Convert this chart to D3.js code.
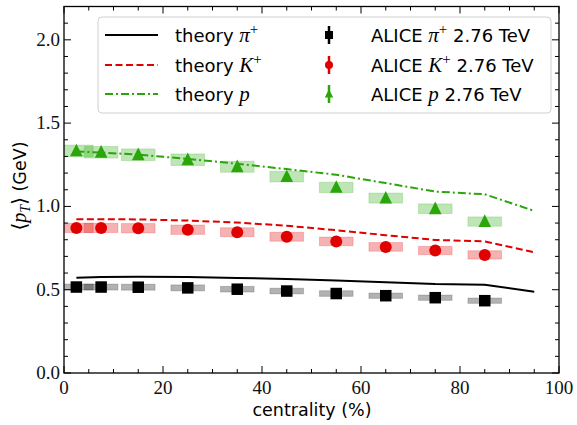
<!DOCTYPE html>
<html><head><meta charset="utf-8">
<script src="https://cdn.jsdelivr.net/npm/d3@7/dist/d3.min.js"></script>
<style>body{margin:0;background:#fff}svg{display:block}</style>
</head><body><svg id="c" width="577" height="425"></svg>
<script>
// ---- data ----
const centrality = [2.5, 7.5, 15, 25, 35, 45, 55, 65, 75, 85];
const aliceP  = [1.333, 1.325, 1.310, 1.280, 1.238, 1.179, 1.114, 1.050, 0.986, 0.909];
const aliceK  = [0.871, 0.871, 0.869, 0.860, 0.845, 0.818, 0.790, 0.757, 0.735, 0.709];
const alicePi = [0.516, 0.516, 0.515, 0.511, 0.503, 0.492, 0.477, 0.464, 0.452, 0.434];
const sysP  = [0.035, 0.035, 0.035, 0.035, 0.033, 0.032, 0.031, 0.030, 0.029, 0.028];
const sysK  = [0.028, 0.028, 0.028, 0.028, 0.027, 0.027, 0.026, 0.026, 0.025, 0.025];
const sysPi = [0.018, 0.018, 0.018, 0.018, 0.017, 0.017, 0.017, 0.016, 0.016, 0.016];
const binHalf = 3.4;
const theoryX  = [2.5, 7.5, 15, 25, 35, 45, 55, 65, 75, 85, 95];
const theoryP  = [1.330, 1.323, 1.311, 1.285, 1.256, 1.224, 1.190, 1.140, 1.089, 1.073, 0.973];
const theoryK  = [0.923, 0.923, 0.922, 0.915, 0.903, 0.884, 0.857, 0.827, 0.799, 0.790, 0.725];
const theoryPi = [0.572, 0.576, 0.578, 0.577, 0.571, 0.564, 0.555, 0.545, 0.534, 0.530, 0.488];
const xTicks = [0, 20, 40, 60, 80, 100];
const yTicks = [0.0, 0.5, 1.0, 1.5, 2.0];

const svg = d3.select("#c");
const L = 64, R = 559, T = 6.5, B = 373;
const x = d3.scaleLinear().domain([0, 100]).range([L, R]);
const y = d3.scaleLinear().domain([0, 2.2]).range([B, T]);

svg.append("defs").append("clipPath").attr("id","clip")
  .append("rect").attr("x",L).attr("y",T).attr("width",R-L).attr("height",B-T);

const series = [
  {name:"pi", data:alicePi, sys:sysPi, th:theoryPi, col:"#000000", box:"rgba(0,0,0,0.30)", boxEdge:"rgba(0,0,0,0.18)", dash:null, mark:"square"},
  {name:"K", data:aliceK, sys:sysK, th:theoryK, col:"#e00000", box:"rgba(225,0,0,0.30)", boxEdge:"rgba(225,0,0,0.20)", dash:"7,3.5", mark:"circle"},
  {name:"p", data:aliceP, sys:sysP, th:theoryP, col:"#2aa50a", box:"rgba(40,170,10,0.30)", boxEdge:"rgba(40,170,10,0.20)", dash:"8,3,2,3", mark:"triangle"}
];

const plot = svg.append("g").attr("clip-path","url(#clip)");
series.forEach(s => {
  plot.append("g").selectAll("rect").data(centrality).join("rect")
    .attr("x", d => x(d - binHalf)).attr("width", d => x(d + binHalf) - x(d - binHalf))
    .attr("y", (d,i) => y(s.data[i] + s.sys[i]))
    .attr("height", (d,i) => y(s.data[i] - s.sys[i]) - y(s.data[i] + s.sys[i]))
    .attr("fill", s.box).attr("stroke", s.boxEdge).attr("stroke-width", 1);
});
series.forEach(s => {
  const line = d3.line().x((d,i) => x(theoryX[i])).y(d => y(d));
  plot.append("path").datum(s.th).attr("d", line).attr("fill","none")
    .attr("stroke", s.col).attr("stroke-width", 2)
    .attr("stroke-dasharray", s.dash);
});
function drawMarker(g, type, cx, cy, size, col) {
  if (type === "square") {
    g.append("rect").attr("x", cx - size/2).attr("y", cy - size/2).attr("width", size).attr("height", size).attr("fill", col);
  } else if (type === "circle") {
    g.append("circle").attr("cx", cx).attr("cy", cy).attr("r", size/2).attr("fill", col);
  } else {
    const h = size * 1.0, w = size * 1.05;
    g.append("path").attr("d", `M${cx},${cy - h*0.6}L${cx + w/2},${cy + h*0.45}L${cx - w/2},${cy + h*0.45}Z`).attr("fill", col);
  }
}
series.forEach(s => {
  const g = plot.append("g");
  centrality.forEach((c,i) => drawMarker(g, s.mark, x(c), y(s.data[i]), s.mark==="square"?11.5:12, s.col));
});

const ax = svg.append("g");
ax.append("rect").attr("x",L).attr("y",T).attr("width",R-L).attr("height",B-T)
  .attr("fill","none").attr("stroke","#000").attr("stroke-width",1.3);
const minorX = d3.range(0, 100.01, 5);
const minorY = d3.range(0, 2.2001, 0.1);
minorX.forEach(v => {
  const major = Math.abs(v % 20) < 1e-6;
  const len = major ? 7 : 4;
  ax.append("line").attr("x1",x(v)).attr("x2",x(v)).attr("y1",B).attr("y2",B-len).attr("stroke","#000").attr("stroke-width",1);
  ax.append("line").attr("x1",x(v)).attr("x2",x(v)).attr("y1",T).attr("y2",T+len).attr("stroke","#000").attr("stroke-width",1);
});
minorY.forEach(v => {
  const major = Math.abs(Math.round(v*10) % 5) < 1e-6;
  const len = major ? 7 : 4;
  ax.append("line").attr("x1",L).attr("x2",L+len).attr("y1",y(v)).attr("y2",y(v)).attr("stroke","#000").attr("stroke-width",1);
  ax.append("line").attr("x1",R).attr("x2",R-len).attr("y1",y(v)).attr("y2",y(v)).attr("stroke","#000").attr("stroke-width",1);
});
const serif = "'Liberation Serif', 'DejaVu Serif', serif";
const sans = "'DejaVu Sans', sans-serif";
ax.selectAll("text.xt").data(xTicks).join("text").attr("class","xt")
  .attr("x", d => x(d)).attr("y", B + 21).attr("text-anchor","middle")
  .attr("font-family", serif).attr("font-size", 19).attr("fill","#111").text(d => d);
ax.selectAll("text.yt").data(yTicks).join("text").attr("class","yt")
  .attr("x", L - 4).attr("y", d => y(d) + 6).attr("text-anchor","end")
  .attr("font-family", serif).attr("font-size", 19).attr("fill","#111").text(d => d.toFixed(1));

svg.append("text").attr("x", 312).attr("y", 416).attr("text-anchor","middle")
  .attr("font-family", sans).attr("font-size", 17.5).text("centrality (%)");
const yl = svg.append("text").attr("transform", `translate(26,186) rotate(-90)`)
  .attr("text-anchor","middle").attr("font-family", sans).attr("font-size", 17.5);
yl.append("tspan").attr("font-family", serif).attr("font-size", 20).text("⟨");
yl.append("tspan").attr("font-family", serif).attr("font-style","italic").attr("font-size", 20).text("p");
yl.append("tspan").attr("font-family", serif).attr("font-style","italic").attr("font-size", 14).attr("dy", 4).text("T");
yl.append("tspan").attr("font-family", serif).attr("font-size", 20).attr("dy", -4).text("⟩");
yl.append("tspan").text(" (GeV)");

const lg = svg.append("g");
lg.append("rect").attr("x", 98).attr("y", 17).attr("width", 453).attr("height", 96).attr("rx", 4)
  .attr("fill","rgba(255,255,255,0.85)").attr("stroke","#d0d0d0").attr("stroke-width",1);
const legTheory = ["π", "K", "p"];
const legSup = ["+", "+", ""];
const rowsY = [35, 65, 94];
series.forEach((s,i) => {
  const ry = rowsY[i];
  lg.append("line").attr("x1",105).attr("x2",158).attr("y1",ry).attr("y2",ry)
    .attr("stroke",s.col).attr("stroke-width",2).attr("stroke-dasharray", s.dash);
  const t = lg.append("text").attr("x",175).attr("y",ry+7).attr("font-family",sans).attr("font-size",18);
  t.append("tspan").text("theory ");
  t.append("tspan").attr("font-family",serif).attr("font-style","italic").attr("font-size",21).text(legTheory[i]);
  if (legSup[i]) t.append("tspan").attr("font-family",serif).attr("font-size",15).attr("dy",-8).text(legSup[i]);
  lg.append("line").attr("x1",329).attr("x2",329).attr("y1",ry-9).attr("y2",ry+9).attr("stroke",s.col).attr("stroke-width",2.5);
  drawMarker(lg, s.mark, 329, ry, 8, s.col);
  const t2 = lg.append("text").attr("x",371).attr("y",ry+7).attr("font-family",sans).attr("font-size",18);
  t2.append("tspan").text("ALICE ");
  t2.append("tspan").attr("font-family",serif).attr("font-style","italic").attr("font-size",21).text(legTheory[i]);
  if (legSup[i]) t2.append("tspan").attr("font-family",serif).attr("font-size",15).attr("dy",-8).text(legSup[i]);
  t2.append("tspan").attr("dy", legSup[i] ? 8 : 0).text(" 2.76 TeV");
});
</script></body></html>
